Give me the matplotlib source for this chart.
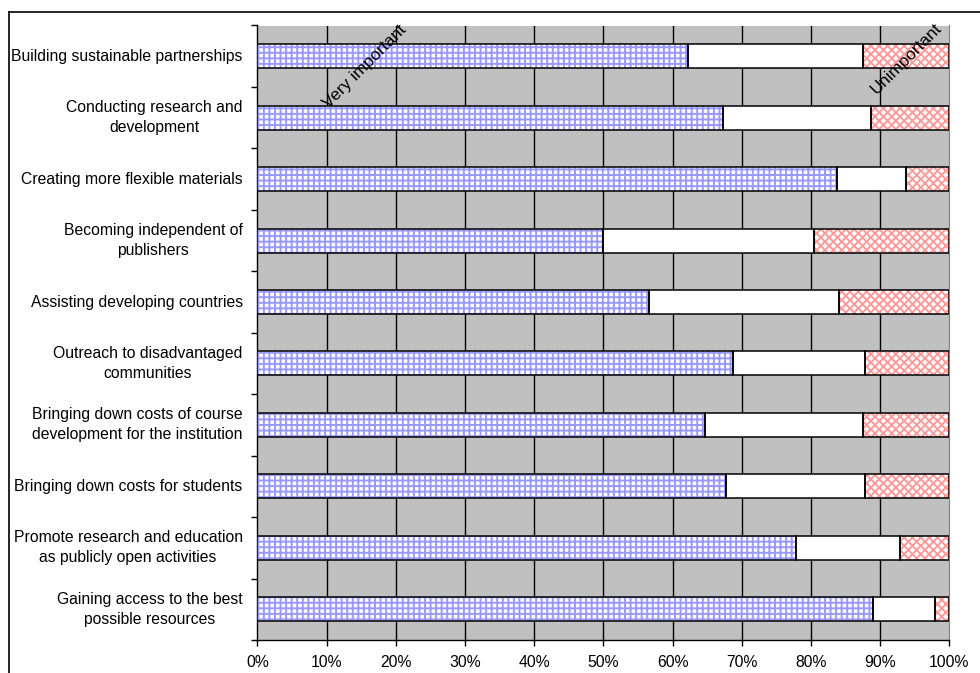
import matplotlib
matplotlib.use("Agg")
import matplotlib.pyplot as plt
from matplotlib.lines import Line2D
import numpy as np

plt.rcParams['font.family'] = ['Liberation Sans', 'DejaVu Sans']
plt.rcParams['hatch.linewidth'] = 1.4

categories = [
    "Building sustainable partnerships",
    "Conducting research and\ndevelopment",
    "Creating more flexible materials",
    "Becoming independent of\npublishers",
    "Assisting developing countries",
    "Outreach to disadvantaged\ncommunities",
    "Bringing down costs of course\ndevelopment for the institution",
    "Bringing down costs for students",
    "Promote research and education\nas publicly open activities",
    "Gaining access to the best\npossible resources",
]
very_important = [62.2, 67.3, 83.7, 50.0, 56.6, 68.7, 64.7, 67.7, 77.8, 89.0]
important = [25.3, 21.4, 10.1, 30.5, 27.4, 19.1, 22.8, 20.1, 15.1, 9.0]
unimportant = [12.5, 11.3, 6.2, 19.5, 16.0, 12.2, 12.5, 12.2, 7.1, 2.0]
x_ticks = [0, 10, 20, 30, 40, 50, 60, 70, 80, 90, 100]
x_ticklabels = [f"{t}%" for t in x_ticks]

FS = 11.3

fig = plt.figure(figsize=(9.8, 6.73), dpi=100)
W, H = 980, 673
ax = fig.add_axes([257.3 / W, 1 - 640 / H, (949.3 - 257.3) / W, (640 - 25.5) / H])
ax.set_facecolor('#C0C0C0')

y = np.arange(len(categories))
h = 0.39
very = np.array(very_important)
mid = np.array(important)
low = np.array(unimportant)

# hatched fills (drawn without outline so the hatch takes the pattern colour)
ax.barh(y, very, height=h, color='white', edgecolor='#9999FF', hatch='+++', linewidth=0, zorder=3)
ax.barh(y, mid, left=very, height=h, color='white', linewidth=0, zorder=3)
ax.barh(y, low, left=very + mid, height=h, color='white', edgecolor='#FF9A9A', hatch='xxxx', linewidth=0, zorder=3)
# black outlines
for left, width in ((np.zeros_like(very), very), (very, mid), (very + mid, low)):
    ax.barh(y, width, left=left, height=h, fill=False, edgecolor='black', linewidth=1.1, zorder=4)

ax.set_xlim(0, 100)
ax.set_ylim(len(categories) - 0.5, -0.5)

ax.set_xticks(x_ticks)
ax.set_xticklabels(x_ticklabels, fontsize=FS)
ax.tick_params(axis='x', direction='out', length=4, width=1, pad=7)

ax.set_yticks(y)
ax.set_yticklabels(categories, fontsize=FS, multialignment='center', linespacing=1.42)
for lbl in ax.get_yticklabels():
    lbl.set_verticalalignment('center')
ax.tick_params(axis='y', which='major', length=0, pad=10.5)
ax.set_yticks(np.arange(-0.5, len(categories), 1.0), minor=True)
ax.tick_params(axis='y', which='minor', direction='out', length=4, width=1)

for gx in x_ticks[1:-1]:
    ax.axvline(gx, color='black', linewidth=1.0, zorder=1)

ax.spines['top'].set_visible(False)
ax.spines['right'].set_color('#808080')
ax.spines['left'].set_linewidth(1.0)
ax.spines['bottom'].set_linewidth(1.0)

ax.text(15.6, 0.17, "Very important", rotation=45, ha='center', va='center',
        rotation_mode='anchor', fontsize=12.3, zorder=6)
ax.text(93.8, 0.04, "Unimportant", rotation=45, ha='center', va='center',
        rotation_mode='anchor', fontsize=12.3, zorder=6)

# chart-area frame
fig.add_artist(Line2D([9 / W, 1.0], [1 - 12 / H, 1 - 12 / H], color='black', linewidth=1.2))
fig.add_artist(Line2D([9 / W, 9 / W], [0.0, 1 - 12 / H], color='black', linewidth=1.2))

fig.savefig("out.png", dpi=100)
